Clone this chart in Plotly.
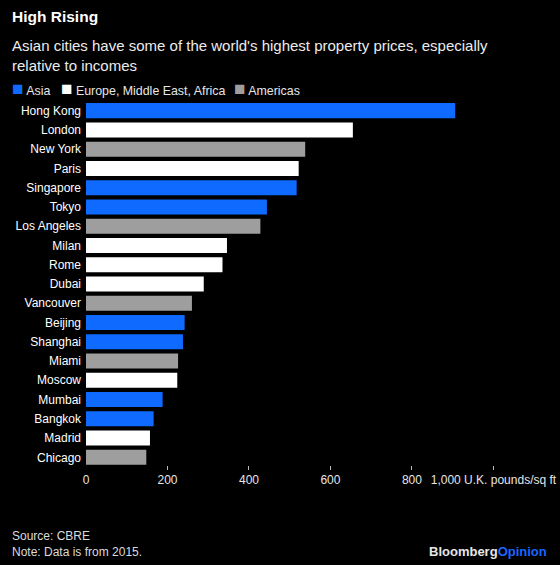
import plotly.graph_objects as go

cities = ["Hong Kong", "London", "New York", "Paris", "Singapore", "Tokyo", "Los Angeles",
          "Milan", "Rome", "Dubai", "Vancouver", "Beijing", "Shanghai", "Miami", "Moscow",
          "Mumbai", "Bangkok", "Madrid", "Chicago"]
prices = [906, 655, 538, 522, 517, 444, 428, 346, 335, 289, 260, 242, 238, 226, 224, 188, 166, 157, 148]
regions = ["Asia", "Europe, Middle East, Africa", "Americas", "Europe, Middle East, Africa", "Asia", "Asia",
           "Americas", "Europe, Middle East, Africa", "Europe, Middle East, Africa",
           "Europe, Middle East, Africa", "Americas", "Asia", "Asia", "Americas",
           "Europe, Middle East, Africa", "Asia", "Asia", "Europe, Middle East, Africa", "Americas"]
region_order = ["Asia", "Europe, Middle East, Africa", "Americas"]
region_colors = {"Asia": "#0f6bff", "Europe, Middle East, Africa": "#ffffff", "Americas": "#9e9e9e"}
tick_vals = [0, 200, 400, 600, 800, 1000]
tick_text = ["0", "200", "400", "600", "800", "1,000 U.K. pounds/sq ft"]

FONT = "Liberation Sans, Arial, sans-serif"
L, T, PW, PH = 86, 101, 460, 364


def px_x(p):
    return (p - L) / PW


def px_y(p):
    return 1 - (p - T) / PH


fig = go.Figure()
for reg in region_order:
    ys = [c for c, r in zip(cities, regions) if r == reg]
    xs = [p for p, r in zip(prices, regions) if r == reg]
    fig.add_trace(go.Bar(
        x=xs, y=ys, orientation="h", name=reg,
        marker=dict(color=region_colors[reg], line=dict(width=0)),
        width=0.78, hoverinfo="x+y", showlegend=False,
    ))

# invisible trace for tick marks axis
fig.add_trace(go.Scatter(x=[0], y=[cities[0]], xaxis="x2", mode="markers",
                         marker=dict(opacity=0), showlegend=False, hoverinfo="skip"))

fig.update_layout(
    width=560, height=565,
    paper_bgcolor="#000000", plot_bgcolor="#000000",
    margin=dict(l=L, r=560 - L - PW, t=T, b=565 - T - PH, autoexpand=False),
    barmode="overlay",
    font=dict(family=FONT, color="#ffffff", size=12),
    showlegend=False,
    xaxis=dict(range=[0, 1129], tickmode="array", tickvals=tick_vals, ticktext=tick_text,
               ticks="", showgrid=False, zeroline=False, showline=False, automargin=False,
               tickfont=dict(size=12, color="#e6e6e6"), ticklabelstandoff=6, fixedrange=True),
    xaxis2=dict(overlaying="x", matches="x", side="bottom", tickmode="array",
                tickvals=tick_vals[1:], ticks="outside", ticklen=4, tickwidth=1,
                tickcolor="#bbbbbb", showticklabels=False, showgrid=False, automargin=False,
                zeroline=False, showline=False, range=[0, 1129], anchor="y"),
    yaxis=dict(categoryorder="array", categoryarray=cities, range=[18.4, -0.5],
               ticks="", showgrid=False, zeroline=False, showline=False, automargin=False,
               tickfont=dict(size=12, color="#ffffff"), ticklabelstandoff=4, fixedrange=True),
    hovermode="closest",
)

fig.add_annotation(text="<b>High Rising</b>", xref="paper", yref="paper",
                   x=px_x(10), y=px_y(17), xanchor="left", yanchor="middle",
                   showarrow=False, font=dict(size=15.5, color="#ffffff", family=FONT))
fig.add_annotation(text="Asian cities have some of the world's highest property prices, especially<br>relative to incomes",
                   xref="paper", yref="paper", x=px_x(10), y=px_y(35),
                   xanchor="left", yanchor="top", align="left", showarrow=False,
                   font=dict(size=15, color="#ececec", family=FONT))

# legend (colour square + label)
legend_x = [10, 59, 232]
for reg, lx in zip(region_order, legend_x):
    fig.add_annotation(
        text=f"<span style='color:{region_colors[reg]};font-size:19px'>■</span> {reg}",
        xref="paper", yref="paper", x=px_x(lx), y=px_y(89), xanchor="left", yanchor="middle",
        showarrow=False, font=dict(size=12.4, color="#e6e6e6", family=FONT))

fig.add_annotation(text="Source: CBRE<br>Note: Data is from 2015.", xref="paper", yref="paper",
                   x=px_x(10), y=px_y(527), xanchor="left", yanchor="top",
                   align="left", showarrow=False,
                   font=dict(size=12, color="#dcdcdc", family=FONT))
fig.add_annotation(text="<b><span style='color:#e6e6e6'>Bloomberg</span><span style='color:#1a66ff'>Opinion</span></b>",
                   xref="paper", yref="paper", x=px_x(549), y=px_y(551),
                   xanchor="right", yanchor="middle", showarrow=False,
                   font=dict(size=13, family=FONT))

fig.write_html("out.html", config={"displayModeBar": False},
               post_script="document.body.style.margin='0px';document.body.style.overflow='hidden';")
